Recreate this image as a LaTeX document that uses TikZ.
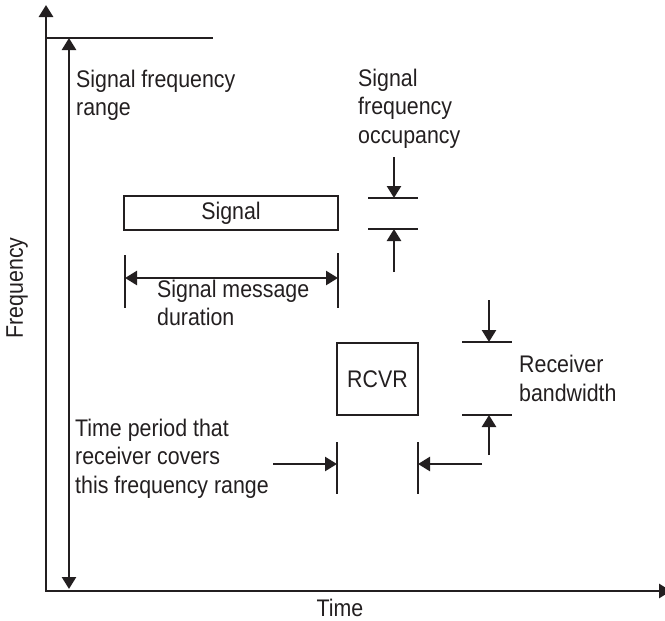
\documentclass[tikz,border=0pt]{standalone}
\usepackage{fontspec}
\setmainfont{Liberation Sans}[FakeStretch=0.89]
\usetikzlibrary{positioning,arrows.meta}
\definecolor{ink}{HTML}{231F20}
\tikzset{
  axis/.style={draw=ink,line width=2.8pt,{Triangle[length=12pt,width=14pt]}-{Triangle[length=12pt,width=14pt]}},
  dim/.style={draw=ink,line width=2.5pt,-{Triangle[length=12pt,width=14pt]}},
  twodim/.style={draw=ink,line width=2.5pt,{Triangle[length=12pt,width=14pt]}-{Triangle[length=12pt,width=14pt]}},
  bar/.style={draw=ink,line width=2.5pt},
  box/.style={draw=ink,line width=2.6pt,inner sep=0pt,text=ink,font=\fontsize{24}{28.5}\selectfont},
  lbl/.style={align=left,inner sep=0pt,anchor=north west,text=ink,font=\fontsize{24}{28.5}\selectfont}}

\begin{document}
\begin{tikzpicture}[x=1pt,y=-1pt]
  \useasboundingbox (0,0) rectangle (665,621);
  % axes
  \coordinate (ftop) at (46,5);
  \coordinate (tend) at (671,591);
  \draw[axis] (ftop) |- (tend);
  \node[lbl,anchor=base] (tlab) at (340,616) {Time};
  \node[lbl,anchor=base,rotate=90] (flab) at (23,288) {Frequency};
  % frequency range
  \coordinate (rngT) at (69,38);
  \coordinate (rngB) at (69,589);
  \draw[bar] (46,38) -- (213,38);
  \draw[twodim] (rngB) -- (rngT);
  \node[lbl] (rng) at (76,69.6) {Signal frequency\\range};
  % signal
  \node[box,minimum width=214pt,minimum height=34pt] (sig) at (231,213) {Signal};
  \coordinate (durL) at (125,278);
  \coordinate (durR) at (338,278);
  \draw[bar] (125,255) -- (125,308);
  \draw[bar] (338,253) -- (338,308);
  \draw[twodim] (durL) -- (durR);
  \node[lbl] (dur) at (157,279.6) {Signal message\\duration};
  % occupancy
  \coordinate (occA) at (394,157);
  \coordinate (occT) at (394,198);
  \coordinate (occB) at (394,229);
  \coordinate (occC) at (394,272);
  \draw[bar] (368,198) -- (418,198);
  \draw[bar] (368,229) -- (418,229);
  \draw[dim] (occA) -- (occT);
  \draw[dim] (occC) -- (occB);
  \node[lbl] (occ) at (358,68.6) {Signal\\frequency\\occupancy};
  % receiver
  \node[box,minimum width=81pt,minimum height=72pt] (rcvr) at (377.5,379) {RCVR};
  \coordinate (bwA) at (489,300);
  \coordinate (bwT) at (489,342);
  \coordinate (bwB) at (489,415);
  \coordinate (bwC) at (489,455);
  \draw[bar] (462,342) -- (512,342);
  \draw[bar] (462,415) -- (512,415);
  \draw[dim] (bwA) -- (bwT);
  \draw[dim] (bwC) -- (bwB);
  \node[lbl] (bw) at (519,355) {Receiver\\bandwidth};
  % time period
  \coordinate (tpA) at (273,464);
  \coordinate (tpL) at (337,464);
  \coordinate (tpR) at (418,464);
  \coordinate (tpC) at (482,464);
  \draw[bar] (337,442) -- (337,494);
  \draw[bar] (418,442) -- (418,494);
  \draw[dim] (tpA) -- (tpL);
  \draw[dim] (tpC) -- (tpR);
  \node[lbl] (tp) at (75,418.6) {Time period that\\receiver covers\\this frequency range};
\end{tikzpicture}
\end{document}
